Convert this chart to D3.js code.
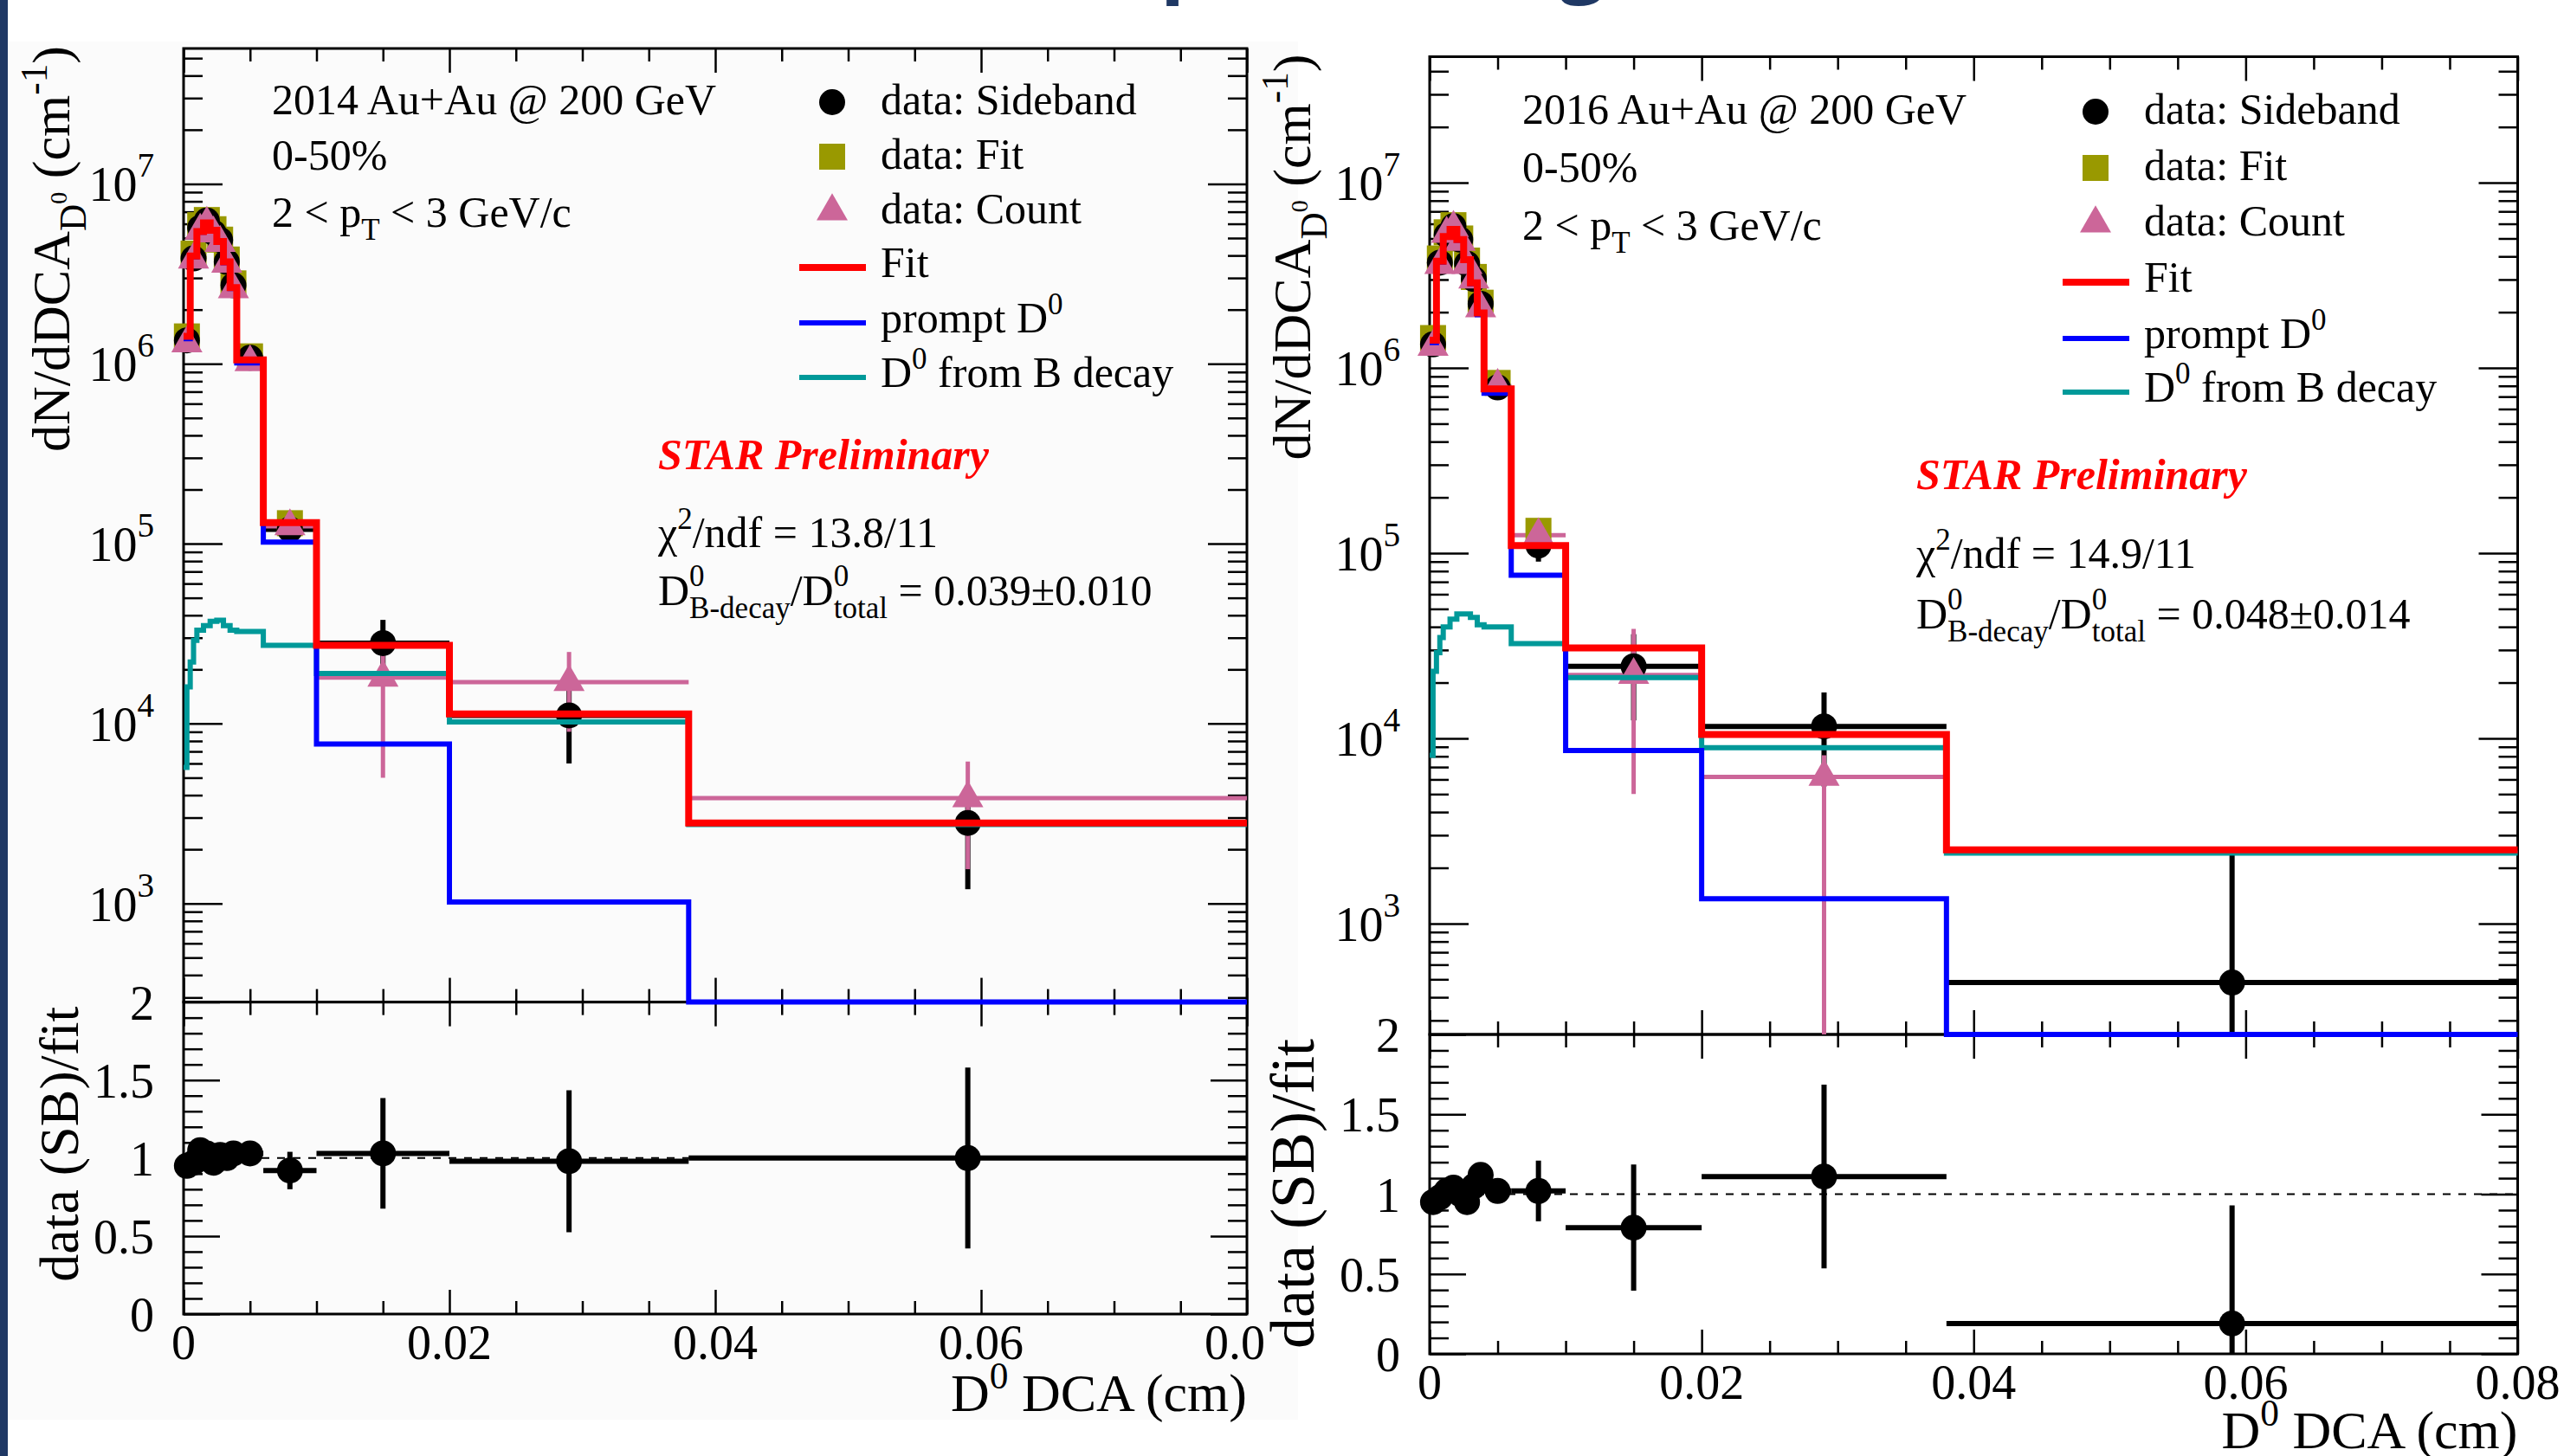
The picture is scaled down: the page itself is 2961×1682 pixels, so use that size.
<!DOCTYPE html>
<html>
<head>
<meta charset="utf-8">
<title>D0 DCA template fit: 2014 vs 2016</title>
<script src="https://cdn.jsdelivr.net/npm/d3@7"></script>
<style>
  body { margin: 0; background: #fff; }
  svg text { white-space: pre; }
</style>
</head>
<body>
<div id="chart"></div>
<script>
// ---------- data ----------
// data bins (13) and their centres
var binEdges = [0, 0.0005, 0.001, 0.0015, 0.002, 0.0025, 0.003, 0.0035, 0.004, 0.006, 0.01, 0.02, 0.038, 0.08];
var binCenters = [0.00025, 0.00075, 0.00125, 0.00175, 0.00225, 0.00275, 0.00325, 0.00375, 0.005, 0.008, 0.015, 0.029, 0.059];
// finer binning of the B-decay template
var bEdges = [0, 0.00025, 0.0005, 0.00075, 0.001, 0.0015, 0.002, 0.0025, 0.003, 0.0035, 0.004, 0.006, 0.01, 0.02, 0.038, 0.08];

// 2014 Au+Au
var fit14 = [1.42e6, 3.97e6, 5.43e6, 6.07e6, 5.53e6, 4.78e6, 3.69e6, 2.65e6, 1.05e6, 1.31e5, 2.72e4, 1.13e4, 2.8e3];
var prompt14 = [1.38e6, 3.93e6, 5.39e6, 6.03e6, 5.49e6, 4.74e6, 3.65e6, 2.62e6, 1.01e6, 1.02e5, 7.7e3, 1.02e3, 2];
var bdecay14 = [5.7e3, 1.6e4, 2.2e4, 2.9e4, 3.3e4, 3.5e4, 3.7e4, 3.75e4, 3.5e4, 3.3e4, 3.25e4, 2.72e4, 1.9e4, 1.02e4, 2.75e3];
var sideband14 = [1.35e6, 3.85e6, 5.7e6, 6.25e6, 5.36e6, 4.88e6, 3.69e6, 2.73e6, 1.08e6, 1.2e5, 2.8e4, 1.11e4, 2.8e3];
var sbErr14 = [4e4, 8e4, 1.1e5, 1.2e5, 1.1e5, 1e5, 8e4, 6.5e4, 4e4, 1.6e4, 9.7e3, 5.1e3, 1.6e3];
var fitMethod14 = [1.42e6, 4.1e6, 5.9e6, 6.3e6, 5.6e6, 4.9e6, 3.8e6, 2.8e6, 1.1e6, 1.3e5];
var count14 = [1.3e6, 3.8e6, 5.5e6, 6.0e6, 5.3e6, 4.7e6, 3.6e6, 2.6e6, 1.02e6, 1.25e5, 1.8e4, 1.7e4, 3.85e3];
var countLo14 = [4e4, 8e4, 1.1e5, 1.2e5, 1.1e5, 1e5, 8e4, 6.5e4, 4e4, 1.5e4, 1.3e4, 8e3, 2.3e3];
var countHi14 = [4e4, 8e4, 1.1e5, 1.2e5, 1.1e5, 1e5, 8e4, 6.5e4, 4e4, 1.5e4, 1.3e4, 8e3, 2.3e3];
var ratio14 = [0.95, 0.97, 1.05, 1.03, 0.97, 1.02, 1.0, 1.03, 1.03, 0.92, 1.03, 0.98, 1.0];
var ratioErr14 = [0.03, 0.03, 0.03, 0.03, 0.03, 0.03, 0.03, 0.03, 0.04, 0.12, 0.355, 0.455, 0.58];

// 2016 Au+Au
var fit16 = [1.41e6, 3.77e6, 5.12e6, 5.6e6, 4.93e6, 3.84e6, 2.88e6, 1.98e6, 7.7e5, 1.1e5, 3.08e4, 1.05e4, 2.5e3];
var prompt16 = [1.37e6, 3.73e6, 5.08e6, 5.56e6, 4.89e6, 3.8e6, 2.84e6, 1.94e6, 7.3e5, 7.6e4, 8.6e3, 1.36e3, 2];
var bdecay16 = [8.1e3, 2.3e4, 2.9e4, 3.5e4, 4.0e4, 4.4e4, 4.7e4, 4.7e4, 4.5e4, 4.1e4, 4.0e4, 3.25e4, 2.13e4, 8.9e3, 2.4e3];
var sideband16 = [1.34e6, 3.7e6, 5.22e6, 5.82e6, 4.93e6, 3.65e6, 3.02e6, 2.22e6, 7.85e5, 1.1e5, 2.45e4, 1.16e4, 480];
var sbErr16 = [4e4, 8e4, 1.1e5, 1.2e5, 1e5, 8e4, 7e4, 6e4, 3e4, 2e4, 1.2e4, 6.1e3, 1.9e3];
var fitMethod16 = [1.45e6, 3.9e6, 5.4e6, 5.9e6, 5.0e6, 3.8e6, 3.1e6, 2.25e6, 8.3e5, 1.32e5];
var count16 = [1.3e6, 3.6e6, 5.3e6, 5.7e6, 4.8e6, 3.6e6, 3.0e6, 2.1e6, 8.0e5, 1.25e5, 2.2e4, 6.2e3, null];
var countLo16 = [4e4, 8e4, 1.1e5, 1.2e5, 1e5, 8e4, 7e4, 6e4, 3e4, 1.5e4, 1.7e4, 6.2e3, null];
var countHi16 = [4e4, 8e4, 1.1e5, 1.2e5, 1e5, 8e4, 7e4, 6e4, 3e4, 1.5e4, 1.7e4, 1.9e3, null];
var ratio16 = [0.95, 0.98, 1.02, 1.04, 1.0, 0.95, 1.05, 1.12, 1.02, 1.02, 0.79, 1.11, 0.19];
var ratioErr16 = [0.03, 0.03, 0.03, 0.03, 0.03, 0.03, 0.03, 0.03, 0.04, 0.19, 0.395, 0.575, 0.74];

// axis ticks / labels
var xTicks = [0, 0.02, 0.04, 0.06, 0.08];
var xTickLabels = ["0", "0.02", "0.04", "0.06", "0.08"];
var ratioTicks = [0, 0.5, 1, 1.5, 2];
var ratioTickLabels = ["0", "0.5", "1", "1.5", "2"];
var decades = [3, 4, 5, 6, 7];

var SERIF = "'Liberation Serif','Times New Roman',serif";
var RED = "#ff0000", BLUE = "#0000ff", TEAL = "#009999", PINK = "#cc6699", OLIVE = "#999900";

var svg = d3.select("#chart").append("svg")
    .attr("width", 2961).attr("height", 1682);

// slide bits around the two plots
svg.append("rect").attr("x", 10).attr("y", 48).attr("width", 1489).attr("height", 1592).attr("fill", "#fbfbfb");
svg.append("rect").attr("x", 0).attr("y", 0).attr("width", 9).attr("height", 1682).attr("fill", "#1f3864");
svg.append("text").attr("x", 1340).attr("y", -15).attr("font-family", "'Open Sans',sans-serif")
    .attr("font-weight", 700).attr("font-size", 92).attr("fill", "#1f3864").text("p");
svg.append("text").attr("x", 1801).attr("y", -15).attr("font-family", "'Open Sans',sans-serif")
    .attr("font-weight", 700).attr("font-size", 92).attr("fill", "#1f3864").text("g");

// rich text: parts are strings or {t, s: size factor, dy: shift in em, same: stack on previous}
function rich(parent, x, y, parts, o) {
  var size = o.size;
  var g = parent.append("g").attr("transform", "translate(" + x + "," + y + ") rotate(" + (o.rot || 0) + ")");
  var inner = g.append("g");
  var cx = 0, prevStart = 0;
  parts.forEach(function(p) {
    if (typeof p === "string") p = {t: p};
    var start = p.same ? prevStart : cx;
    var t = inner.append("text")
        .attr("x", start).attr("y", (p.dy || 0) * size)
        .attr("font-family", SERIF)
        .attr("font-size", size * (p.s || 1))
        .attr("fill", o.color || "#000")
        .text(p.t);
    if (o.weight) t.attr("font-weight", o.weight);
    if (o.italic) t.attr("font-style", "italic");
    var w = t.node().getComputedTextLength();
    prevStart = start;
    cx = p.same ? Math.max(cx, start + w) : start + w;
  });
  inner.attr("transform", "translate(" + (-cx * (o.anchor || 0)) + ",0)");
  return g;
}

function sup(t) { return {t: t, s: 0.7, dy: -0.42}; }
function sub(t, same) { return {t: t, s: 0.7, dy: 0.3, same: !!same}; }

function ticks(g, axisFn, scale, vals, len, tx, ty) {
  g.append("g").attr("transform", "translate(" + tx + "," + ty + ")")
    .call(axisFn(scale).tickValues(vals).tickSize(-len).tickSizeOuter(0).tickFormat(""))
    .call(function(a) { a.select(".domain").remove(); })
    .selectAll("line").attr("stroke", "#000").attr("stroke-width", 2.5);
}

function stepPath(edges, vals, x, y) {
  var pts = [];
  vals.forEach(function(v, i) { pts.push([x(edges[i]), y(v)], [x(edges[i + 1]), y(v)]); });
  return d3.line()(pts);
}

function drawPanel(p) {
  var g = svg.append("g");
  var x = d3.scaleLinear().domain([0, 0.08]).range([p.x0, p.x1]);
  var y = d3.scaleLog().domain([p.logMin, p.logMax]).range([p.yDiv, p.yTop]).clamp(true);
  var yr = d3.scaleLinear().domain([0, 2]).range([p.yBot, p.yDiv]);
  var floor = function(v) { return Math.max(v, p.logMin * 0.5); };

  // frames
  [[p.yTop, p.yDiv], [p.yDiv, p.yBot]].forEach(function(r) {
    g.append("rect").attr("x", p.x0).attr("y", r[0]).attr("width", p.x1 - p.x0).attr("height", r[1] - r[0])
      .attr("fill", "none").attr("stroke", "#000").attr("stroke-width", 3);
  });

  // ticks
  var xMinor = d3.range(0, 17).map(function(i) { return i * 0.005; }).filter(function(v) { return xTicks.indexOf(v) < 0; });
  var logMinor = [];
  decades.concat([2]).forEach(function(d) {
    for (var m = 2; m <= 9; m++) {
      var v = m * Math.pow(10, d);
      if (v > p.logMin && v < p.logMax) logMinor.push(v);
    }
  });
  var logMajor = decades.map(function(d) { return Math.pow(10, d); });
  var rMinor = d3.range(0, 21).map(function(i) { return i / 10; }).filter(function(v) { return v % 0.5 !== 0; });

  [[d3.axisBottom, p.yDiv], [d3.axisTop, p.yTop], [d3.axisBottom, p.yBot], [d3.axisTop, p.yDiv]].forEach(function(a) {
    ticks(g, a[0], x, xTicks, 28, 0, a[1]);
    ticks(g, a[0], x, xMinor, 15, 0, a[1]);
  });
  [[d3.axisLeft, p.x0], [d3.axisRight, p.x1]].forEach(function(a) {
    ticks(g, a[0], y, logMajor, 45, a[1], 0);
    ticks(g, a[0], y, logMinor, 22, a[1], 0);
    ticks(g, a[0], yr, ratioTicks, 42, a[1], 0);
    ticks(g, a[0], yr, rMinor, 22, a[1], 0);
  });

  // tick labels
  decades.forEach(function(d) {
    rich(g, p.x0 - 34, y(Math.pow(10, d)) + 20, ["10", {t: String(d), s: 0.7, dy: -0.5}], {size: 56, anchor: 1});
  });
  ratioTicks.forEach(function(v, i) {
    rich(g, p.x0 - 34, yr(v) + 20, [ratioTickLabels[i]], {size: 56, anchor: 1});
  });
  var xl = g.append("g");
  if (p.clipX) {
    svg.append("clipPath").attr("id", "clipx" + p.id).append("rect")
      .attr("x", 0).attr("y", 0).attr("width", p.clipX).attr("height", 1682);
    xl.attr("clip-path", "url(#clipx" + p.id + ")");
  }
  xTicks.forEach(function(v, i) {
    rich(xl, x(v), p.yBot + 52, [xTickLabels[i]], {size: 56, anchor: 0.5});
  });

  // axis titles
  rich(g, p.x1, p.xTitleY, ["D", sup("0"), " DCA (cm)"], {size: 62, anchor: 1});
  rich(g, p.yTitleX, p.yTop - 3, ["dN/dDCA", {t: "D", s: 0.7, dy: 0.3}, {t: "0", s: 0.45, dy: -0.05}, " (cm", sup("-1"), ")"],
       {size: 62, anchor: 1, rot: -90});
  rich(g, p.rTitleX, p.yDiv + 5, ["data (SB)/fit"], {size: p.rTitleSize, anchor: 1, rot: -90});

  // ---- main pad content ----
  // sideband error bars
  p.sideband.forEach(function(v, i) {
    g.append("line").attr("x1", x(binCenters[i])).attr("x2", x(binCenters[i]))
      .attr("y1", y(floor(v - p.sbErr[i]))).attr("y2", y(v + p.sbErr[i]))
      .attr("stroke", "#000").attr("stroke-width", 6);
    g.append("line").attr("x1", x(binEdges[i])).attr("x2", x(binEdges[i + 1]))
      .attr("y1", y(v)).attr("y2", y(v)).attr("stroke", "#000").attr("stroke-width", 6);
  });
  // count error bars
  p.count.forEach(function(v, i) {
    if (v == null) return;
    g.append("line").attr("x1", x(binCenters[i])).attr("x2", x(binCenters[i]))
      .attr("y1", y(floor(v - p.countLo[i]))).attr("y2", y(v + p.countHi[i]))
      .attr("stroke", PINK).attr("stroke-width", 5);
    g.append("line").attr("x1", x(binEdges[i])).attr("x2", x(binEdges[i + 1]))
      .attr("y1", y(v)).attr("y2", y(v)).attr("stroke", PINK).attr("stroke-width", 5);
  });
  // markers
  var sq = d3.symbol(d3.symbolSquare).size(900)();
  var tri = d3.symbol(d3.symbolTriangle).size(560)();
  g.selectAll(".fm").data(p.fitMethod).enter().append("path")
    .attr("d", sq).attr("fill", OLIVE)
    .attr("transform", function(d, i) { return "translate(" + x(binCenters[i]) + "," + y(d) + ")"; });
  g.selectAll(".sb").data(p.sideband).enter().append("circle")
    .attr("cx", function(d, i) { return x(binCenters[i]); }).attr("cy", function(d) { return y(d); })
    .attr("r", 15).attr("fill", "#000");
  g.selectAll(".ct").data(p.count.filter(function(d) { return d != null; })).enter().append("path")
    .attr("d", tri).attr("fill", PINK)
    .attr("transform", function(d, i) { return "translate(" + x(binCenters[i]) + "," + y(d) + ")"; });
  // templates
  g.append("path").attr("d", stepPath(bEdges, p.bdecay, x, y)).attr("fill", "none").attr("stroke", TEAL).attr("stroke-width", 6);
  g.append("path").attr("d", stepPath(binEdges, p.prompt, x, y)).attr("fill", "none").attr("stroke", BLUE).attr("stroke-width", 6);
  g.append("path").attr("d", stepPath(binEdges, p.fit, x, y)).attr("fill", "none").attr("stroke", RED).attr("stroke-width", 8);

  // ---- ratio pad ----
  g.append("line").attr("x1", p.x0).attr("x2", p.x1).attr("y1", yr(1)).attr("y2", yr(1))
    .attr("stroke", "#000").attr("stroke-width", 2).attr("stroke-dasharray", "9,9");
  p.ratio.forEach(function(v, i) {
    var e = p.ratioErr[i];
    g.append("line").attr("x1", x(binCenters[i])).attr("x2", x(binCenters[i]))
      .attr("y1", yr(Math.max(v - e, 0))).attr("y2", yr(Math.min(v + e, 2)))
      .attr("stroke", "#000").attr("stroke-width", 6);
    g.append("line").attr("x1", x(binEdges[i])).attr("x2", x(binEdges[i + 1]))
      .attr("y1", yr(v)).attr("y2", yr(v)).attr("stroke", "#000").attr("stroke-width", 6);
  });
  g.selectAll(".rt").data(p.ratio).enter().append("circle")
    .attr("cx", function(d, i) { return x(binCenters[i]); }).attr("cy", function(d) { return yr(d); })
    .attr("r", 15).attr("fill", "#000");

  // ---- texts ----
  var T = 50;
  rich(g, p.infoX, p.infoY[0], [p.label], {size: T});
  rich(g, p.infoX, p.infoY[1], ["0-50%"], {size: T});
  rich(g, p.infoX, p.infoY[2], ["2 < p", sub("T"), " < 3 GeV/c"], {size: T});

  var legend = [
    {parts: ["data: Sideband"], kind: "circle"},
    {parts: ["data: Fit"], kind: "square"},
    {parts: ["data: Count"], kind: "tri"},
    {parts: ["Fit"], kind: "line", color: RED, w: 8},
    {parts: ["prompt D", sup("0")], kind: "line", color: BLUE, w: 6},
    {parts: ["D", sup("0"), " from B decay"], kind: "line", color: TEAL, w: 6}
  ];
  legend.forEach(function(l, i) {
    var by = p.legY[i], cy = by - 14;
    if (l.kind === "circle") g.append("circle").attr("cx", p.legMark).attr("cy", cy).attr("r", 15).attr("fill", "#000");
    if (l.kind === "square") g.append("path").attr("d", sq).attr("fill", OLIVE).attr("transform", "translate(" + p.legMark + "," + cy + ")");
    if (l.kind === "tri") g.append("path").attr("d", tri).attr("fill", PINK).attr("transform", "translate(" + p.legMark + "," + cy + ")");
    if (l.kind === "line") g.append("line").attr("x1", p.legMark - 38).attr("x2", p.legMark + 39)
      .attr("y1", cy + 3).attr("y2", cy + 3).attr("stroke", l.color).attr("stroke-width", l.w);
    rich(g, p.legText, by, l.parts, {size: T});
  });

  rich(g, p.starX, p.starY, ["STAR Preliminary"], {size: T, color: RED, weight: 700, italic: true});
  rich(g, p.starX, p.chiY, ["\u03c7", sup("2"), "/ndf = " + p.chi], {size: T});
  rich(g, p.starX, p.fracY, ["D", {t: "0", s: 0.7, dy: -0.45}, sub("B-decay", true), "/D", {t: "0", s: 0.7, dy: -0.45},
       sub("total", true), " = " + p.frac], {size: T});
}

drawPanel({
  id: 14, x0: 212, x1: 1440, yTop: 56, yDiv: 1157.6, yBot: 1518, logMin: 283, logMax: 5.66e7,
  clipX: 1463, xTitleY: 1630, yTitleX: 80, rTitleX: 90, rTitleSize: 64,
  fit: fit14, prompt: prompt14, bdecay: bdecay14, sideband: sideband14, sbErr: sbErr14,
  fitMethod: fitMethod14, count: count14, countLo: countLo14, countHi: countHi14,
  ratio: ratio14, ratioErr: ratioErr14,
  label: "2014 Au+Au @ 200 GeV", infoX: 314, infoY: [132, 196, 262],
  legMark: 961, legText: 1017, legY: [132, 195, 258, 320, 384, 447],
  starX: 760, starY: 542, chiY: 632, chi: "13.8/11", fracY: 699, frac: "0.039\u00b10.010"
});

drawPanel({
  id: 16, x0: 1651, x1: 2907.5, yTop: 65.5, yDiv: 1195, yBot: 1564, logMin: 252, logMax: 4.79e7,
  clipX: null, xTitleY: 1673, yTitleX: 1513, rTitleX: 1517, rTitleSize: 72,
  fit: fit16, prompt: prompt16, bdecay: bdecay16, sideband: sideband16, sbErr: sbErr16,
  fitMethod: fitMethod16, count: count16, countLo: countLo16, countHi: countHi16,
  ratio: ratio16, ratioErr: ratioErr16,
  label: "2016 Au+Au @ 200 GeV", infoX: 1758, infoY: [143, 210, 277],
  legMark: 2420, legText: 2476, legY: [143, 208, 272, 337, 402, 464],
  starX: 2213, starY: 565, chiY: 656, chi: "14.9/11", fracY: 726, frac: "0.048\u00b10.014"
});
</script>
</body>
</html>
